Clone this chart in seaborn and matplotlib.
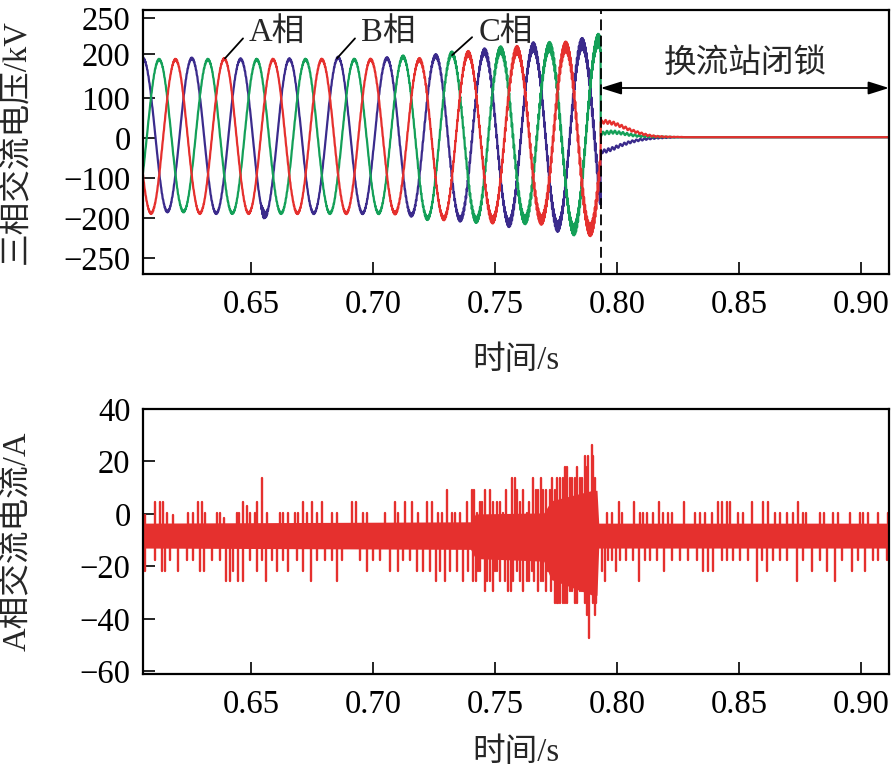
import numpy as np
import pandas as pd
import matplotlib
matplotlib.use("Agg")
import matplotlib.pyplot as plt
import seaborn as sns

# ---------------- data ----------------
# Upper panel: three-phase AC voltage (kV); extreme value of every half cycle (50 Hz)
half_period = 0.01
a_first = 0.5990
a_ext = [197, -187, 197, -187, 199, -187, 197, -187, 197, -187, 197, -187,
         197, -200, 212, -204, 221, -204, 229, -229, 235]
b_first = 0.5957
b_ext = [-187, 200, -183, 200, -187, 198, -192, 198, -187, 202, -187, 200,
         -192, 206, -202, 217, -212, 229, -221, 237, -225]
c_first = 0.6023
c_ext = [-183, 197, -183, 197, -187, 197, -187, 197, -187, 197, -187, 204,
         -200, 212, -204, 221, -204, 229, -229, 245, -230]
# high-frequency ripple riding on the voltages before blocking
rip_t = [0.600, 0.700, 0.730, 0.750, 0.770, 0.785, 0.7933]
rip_amp = [2.0, 2.5, 5.0, 9.0, 12.0, 14.0, 17.0]
rip_freq = 2500
notch_t, notch_amp, notch_hw = 0.6553, 10.0, 0.0012   # jagged B-phase trough
t_block = 0.7933
# after blocking (decaying residual voltage)
post_t = [0.7933, 0.7950, 0.7985, 0.8020, 0.8055, 0.8090, 0.8125, 0.8160, 0.8200, 0.8250, 0.8300, 0.9120]
a_post = [40, 42, 38, 30, 21, 14, 8, 5, 4, 3.5, 3, 3]
b_post = [-33, -32, -25, -16, -9, -4, -1, 1, 2, 3, 3, 3]
c_post = [10, 14, 16, 13, 9, 6, 5, 4, 3.5, 3, 3, 3]
post_rip = [4.5, 4.5, 4, 3.5, 3, 2.5, 2, 1.5, 1, 0.5, 0, 0]
post_freq = 610

# Lower panel: A-phase AC current (A)
core_t = [0.6057, 0.7400, 0.7420, 0.7700, 0.7730, 0.7900, 0.7918, 0.7925, 0.9115]
core_hi = [-3.5, -3.0, 0.0, 0.4, 5.0, 9.0, 9.0, -3.5, -3.5]
core_lo = [-13.0, -13.5, -17.0, -18.0, -25.0, -31.0, -31.0, -13.0, -13.0]
up_t = [0.6065, 0.6107, 0.6127, 0.6141, 0.6154, 0.6182, 0.6243, 0.6264, 0.6284, 0.6298,
        0.6311, 0.6359, 0.6373, 0.6387, 0.6441, 0.6452, 0.6466, 0.6482, 0.6496, 0.6516,
        0.6526, 0.6546, 0.6564, 0.6619, 0.6632, 0.6653, 0.6680, 0.6694, 0.6712, 0.6728,
        0.6751, 0.6769, 0.6789, 0.6830, 0.6851, 0.6912, 0.6930, 0.6960, 0.6974, 0.7049,
        0.7090, 0.7104, 0.7131, 0.7158, 0.7186, 0.7220, 0.7240, 0.7268, 0.7281, 0.7304,
        0.7322, 0.7336, 0.7356, 0.7384, 0.7404, 0.7425, 0.7438, 0.7459, 0.7479, 0.7507,
        0.7534, 0.7568, 0.7582, 0.7602, 0.7630, 0.7657, 0.7677, 0.7698, 0.7725, 0.7746,
        0.7766, 0.7787, 0.7807, 0.7828, 0.7848, 0.7869, 0.7882, 0.7896, 0.7910,
        0.7415, 0.7445, 0.7490, 0.7520, 0.7545, 0.7590, 0.7615, 0.7640, 0.7668, 0.7688,
        0.7710, 0.7735, 0.7756, 0.7777, 0.7797, 0.7817, 0.7838, 0.7858, 0.7875, 0.7903,
        0.7958, 0.7978, 0.8010, 0.8019, 0.8071, 0.8094, 0.8108, 0.8122, 0.8149, 0.8172,
        0.8190, 0.8208, 0.8224, 0.8275, 0.8320, 0.8340, 0.8361, 0.8391, 0.8415, 0.8429,
        0.8449, 0.8463, 0.8497, 0.8518, 0.8552, 0.8600, 0.8620, 0.8648, 0.8668, 0.8695,
        0.8723, 0.8743, 0.8764, 0.8774, 0.8832, 0.8848, 0.8887, 0.8907, 0.8955, 0.8996,
        0.9009, 0.9030, 0.9071, 0.9110]
up_v = [-0.5, 4.7, 4.7, 4.7, 0.3, -0.5, 0.3, 0.3, 4.7, 4.7,
        0.3, 0.3, 0.3, -1.7, 0.3, 0.3, 4.7, 3.0, 0.3, 0.3,
        4.7, 13.6, 0.3, 0.3, 0.3, 0.3, 0.3, 0.3, 4.7, 0.3,
        4.7, 0.3, 4.7, 0.3, 0.3, 4.7, 4.7, 0.3, 0.3, 0.3,
        4.7, 0.3, 4.7, 4.7, 0.3, 4.7, 4.7, 0.3, 0.3, 9.1,
        0.3, 0.3, 0.3, 4.7, 9.1, 0.3, 4.7, 9.1, 9.1, 4.7,
        0.3, 13.6, 13.6, 4.7, 0.3, 13.6, 9.1, 9.1, 9.1, 9.1,
        13.6, 18.0, 13.6, 13.6, 13.6, 22.0, 22.0, 26.3, 13.6,
        9.1, 4.7, 4.7, 4.7, 9.1, 9.1, 9.1, 4.7, 9.1, 13.6,
        9.1, 13.6, 13.6, 13.6, 18.0, 13.6, 18.0, 13.6, 18.0, 22.0,
        0.3, 0.3, 4.7, 0.3, 4.7, 0.3, 0.3, 0.3, 0.3, 4.7,
        0.3, 0.3, 0.3, 4.7, 0.3, 0.3, 0.3, 0.3, 4.7, 4.7,
        4.7, 4.7, 0.3, 0.3, 4.7, 4.7, 4.7, 0.3, 0.3, 0.3,
        0.3, 4.7, 0.3, 0.3, 0.3, 0.3, 0.3, 0.3, 0.3, 0.3,
        0.3, 0.3, 0.3, 0.3]
dn_t = [0.6065, 0.6107, 0.6134, 0.6148, 0.6168, 0.6202, 0.6236, 0.6264, 0.6291, 0.6307,
        0.6339, 0.6373, 0.6397, 0.6414, 0.6427, 0.6448, 0.6468, 0.6496, 0.6523, 0.6544,
        0.6561, 0.6585, 0.6605, 0.6632, 0.6653, 0.6687, 0.6714, 0.6746, 0.6769, 0.6803,
        0.6830, 0.6851, 0.6871, 0.6947, 0.6974, 0.7001, 0.7029, 0.7070, 0.7104, 0.7124,
        0.7151, 0.7179, 0.7206, 0.7233, 0.7258, 0.7274, 0.7295, 0.7315, 0.7343, 0.7370,
        0.7390, 0.7411, 0.7432, 0.7459, 0.7479, 0.7500, 0.7520, 0.7554, 0.7575, 0.7602,
        0.7630, 0.7650, 0.7677, 0.7698, 0.7718, 0.7753, 0.7766, 0.7787, 0.7807, 0.7828,
        0.7848, 0.7869, 0.7886, 0.7910,
        0.7420, 0.7440, 0.7468, 0.7490, 0.7510, 0.7540, 0.7565, 0.7590, 0.7615, 0.7640,
        0.7660, 0.7688, 0.7708, 0.7730, 0.7744, 0.7760, 0.7777, 0.7797, 0.7817, 0.7838,
        0.7858, 0.7878, 0.7900, 0.7915,
        0.7937, 0.7951, 0.7965, 0.7978, 0.7996, 0.8012,
        0.8037, 0.8067, 0.8090, 0.8115, 0.8135, 0.8163, 0.8193, 0.8224, 0.8258, 0.8292,
        0.8326, 0.8354, 0.8374, 0.8395, 0.8429, 0.8449, 0.8477, 0.8504, 0.8538, 0.8572,
        0.8593, 0.8613, 0.8641, 0.8668, 0.8695, 0.8736, 0.8764, 0.8798, 0.8832, 0.8859,
        0.8893, 0.8921, 0.8962, 0.8989, 0.9016, 0.9050, 0.9071, 0.9105]
dn_v = [-21.9, -17.5, -21.9, -21.9, -17.5, -21.9, -17.5, -17.5, -21.9, -21.9,
        -17.5, -17.5, -25.7, -25.7, -21.9, -25.7, -25.7, -17.5, -21.9, -17.5,
        -25.7, -17.5, -21.9, -17.5, -21.9, -17.5, -21.9, -25.7, -17.5, -17.5,
        -17.5, -25.7, -17.5, -17.5, -21.9, -17.5, -17.5, -21.9, -21.9, -17.5,
        -17.5, -21.9, -21.9, -21.9, -25.7, -21.9, -25.7, -21.9, -21.9, -25.7,
        -21.9, -25.7, -21.9, -29.5, -25.7, -21.9, -25.7, -29.5, -25.7, -25.7,
        -25.7, -21.9, -29.5, -25.7, -21.9, -33.9, -33.9, -33.9, -29.5, -33.9,
        -29.5, -33.9, -47.3, -38.4,
        -25.7, -21.9, -25.7, -29.5, -21.9, -25.7, -29.5, -21.9, -29.5, -25.7,
        -25.7, -25.7, -29.5, -29.5, -33.9, -33.9, -33.9, -33.9, -29.5, -33.9,
        -29.5, -38.4, -33.9, -33.9,
        -21.9, -25.7, -17.5, -17.5, -21.9, -17.5,
        -17.5, -17.5, -25.7, -17.5, -17.5, -17.5, -21.9, -17.5, -17.5, -17.5,
        -17.5, -21.9, -21.9, -21.9, -17.5, -17.5, -17.5, -17.5, -17.5, -25.7,
        -17.5, -21.9, -17.5, -17.5, -17.5, -25.7, -17.5, -21.9, -17.5, -21.9,
        -25.7, -17.5, -21.9, -17.5, -21.9, -17.5, -17.5, -17.5]

x_ticks = [0.65, 0.70, 0.75, 0.80, 0.85, 0.90]
v_tick_pos = [300, 210, 100, 0, -100, -200, -300]
v_tick_lab = ["250", "200", "100", "0", "\u2212100", "\u2212200", "\u2212250"]
i_ticks = [40, 20, 0, -20, -40, -60]
phase_names = {"A": "A相", "B": "B相", "C": "C相"}

# ---------------- style ----------------
sns.set_theme(style="ticks")
plt.rcParams["font.family"] = ["Liberation Serif", "Noto Sans CJK SC"]
plt.rcParams["axes.unicode_minus"] = True
FS = 23.5
RED, BLUE, GREEN = "#E5302E", "#3B2B8C", "#14A058"

fig = plt.figure(figsize=(8.91, 7.76), dpi=100)
ax1 = fig.add_axes([143 / 891, 1 - 274 / 776, 746 / 891, 264 / 776])
ax2 = fig.add_axes([143 / 891, 1 - 674 / 776, 746 / 891, 265 / 776])
XL = (0.6057, 0.9115)

# ---------------- voltage curves ----------------
t = np.arange(XL[0], XL[1] + 1e-5, 0.00002)


def wave(first, ext, post, phase_shift):
    ext = np.asarray(ext, float)
    k = np.floor((t - first) / half_period).astype(int)
    k = np.clip(k, 0, len(ext) - 2)
    frac = (t - first - k * half_period) / half_period
    e0, e1 = ext[k], ext[k + 1]
    v = (e0 + e1) / 2 + (e0 - e1) / 2 * np.cos(np.pi * frac)
    v = v + np.interp(t, rip_t, rip_amp) * np.sin(2 * np.pi * rip_freq * t + phase_shift)
    after = t >= t_block
    v[after] = (np.interp(t[after], post_t, post)
                + np.interp(t[after], post_t, post_rip)
                * np.sin(2 * np.pi * post_freq * (t[after] - t_block) + phase_shift))
    return v


va = wave(a_first, a_ext, a_post, 0.0)
vb = wave(b_first, b_ext, b_post, 2.1)
vb = vb + notch_amp * np.exp(-((t - notch_t) / notch_hw) ** 2) * np.sin(2 * np.pi * 3000 * t)
vc = wave(c_first, c_ext, c_post, 4.2)

df_v = pd.concat([
    pd.DataFrame({"t": t, "v": vb, "phase": "B"}),
    pd.DataFrame({"t": t, "v": vc, "phase": "C"}),
    pd.DataFrame({"t": t, "v": va, "phase": "A"}),
], ignore_index=True)
sns.lineplot(data=df_v, x="t", y="v", hue="phase", hue_order=["B", "C", "A"],
             palette={"A": RED, "B": BLUE, "C": GREEN}, estimator=None, sort=False,
             linewidth=1.6, legend=False, ax=ax1)

ax1.axvline(t_block, color="black", lw=1.3, ls=(0, (6, 3)), zorder=5)

# phase labels with leader lines
for name, (x0, y0, x1, y1) in zip(["A", "B", "C"],
                                  [(0.6393, 200, 0.6467, 250),
                                   (0.6852, 200, 0.6926, 250),
                                   (0.7324, 208, 0.7406, 253)]):
    ax1.plot([x0, x1], [y0, y1], color="black", lw=1.3)
    ax1.text(x1 + 0.0025, 262, phase_names[name], fontsize=FS, ha="left", va="center")

ax1.annotate("", xy=(t_block, 126), xytext=(XL[1], 126),
             arrowprops=dict(arrowstyle="<|-|>,head_length=0.7,head_width=0.22",
                             color="black", lw=1.3, shrinkA=0, shrinkB=0,
                             mutation_scale=18))
ax1.text(0.8525, 186, "换流站闭锁", fontsize=FS, ha="center", va="center")

ax1.set_xlim(*XL)
ax1.set_ylim(-339, 321)
ax1.set_yticks(v_tick_pos)
ax1.set_yticklabels(v_tick_lab)
ax1.set_ylabel("三相交流电压/kV", fontsize=FS)
ax1.set_xlabel("时间/s", fontsize=FS)

# ---------------- current ----------------
ax2.fill_between(core_t, core_lo, core_hi, color=RED, lw=0)
rows = []
for i, (tt, vv) in enumerate(zip(up_t + dn_t, up_v + dn_v)):
    rows.append({"t": tt, "v": -8.0, "id": i})
    rows.append({"t": tt, "v": vv, "id": i})
df_i = pd.DataFrame(rows)
sns.lineplot(data=df_i, x="t", y="v", units="id", estimator=None, sort=False,
             color=RED, linewidth=1.7, legend=False, ax=ax2)
ax2.set_xlim(*XL)
ax2.set_ylim(-61, 40)
ax2.set_yticks(i_ticks)
ax2.set_yticklabels([str(v).replace("-", "\u2212") for v in i_ticks])
ax2.set_ylabel("A相交流电流/A", fontsize=FS)
ax2.set_xlabel("时间/s", fontsize=FS)

for ax in (ax1, ax2):
    ax.set_xticks(x_ticks)
    ax.set_xticklabels([f"{x:.2f}" for x in x_ticks])
    ax.tick_params(direction="in", length=8.5, width=1.2, labelsize=FS,
                   top=False, right=False, colors="black")
    ax.tick_params(axis="y", pad=9)
    ax.tick_params(axis="x", pad=11)
    for s in ax.spines.values():
        s.set_visible(True)
        s.set_linewidth(1.6)
        s.set_color("black")
    ax.yaxis.set_label_coords(-0.148, 0.5)

ax1.xaxis.set_label_coords(0.5, -0.27)
ax2.xaxis.set_label_coords(0.5, -0.24)

fig.savefig("out.png", dpi=100)
